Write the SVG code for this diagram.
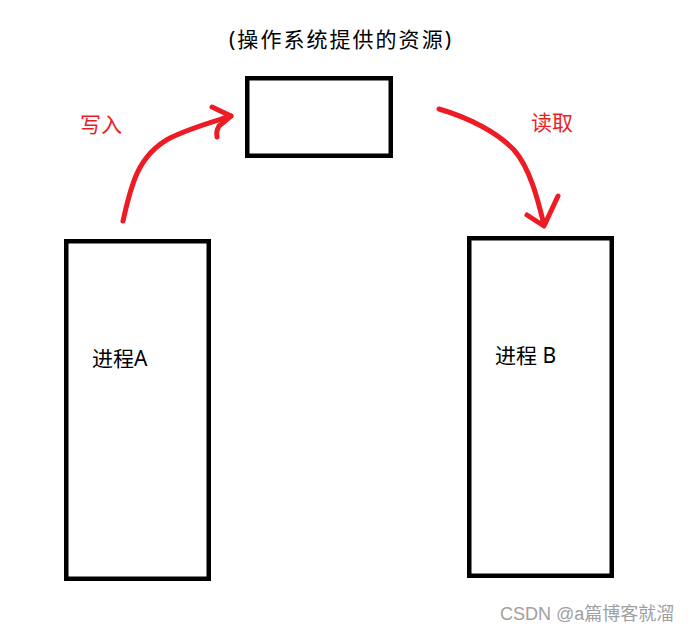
<svg xmlns="http://www.w3.org/2000/svg" width="695" height="634" viewBox="0 0 695 634">
<style>
.box{fill:none;stroke:#000;stroke-width:4.5}
.arr{fill:none;stroke:#ed1c24;stroke-width:5;stroke-linecap:round;stroke-linejoin:round}
.t{font-family:"Noto Sans","Noto Sans CJK SC",sans-serif;font-size:21px;fill:#000}
.r{fill:#ed1c24}
.w{font-family:"Liberation Sans","Noto Sans CJK SC",sans-serif;font-size:18px;fill:#a0a0a0}
</style>
<rect width="695" height="634" fill="#fff"/>
<g id="resource">
<rect class="box" x="247.25" y="78.25" width="143.5" height="77.5"/>
<text class="t" x="229" y="47" font-size="22" textLength="222" lengthAdjust="spacing">(操作系统提供的资源)</text>
</g>
<g id="processA">
<rect class="box" x="66.25" y="241.25" width="142.5" height="337.5"/>
<text class="t" x="92" y="366">进程A</text>
</g>
<g id="processB">
<rect class="box" x="469.25" y="238.25" width="142.5" height="337.5"/>
<text class="t" x="495" y="363">进程 B</text>
</g>
<g id="connectors">
<path class="arr" d="M123,221 C131,185 138,155 170,138 C190,128 212,122 231,116"/>
<path class="arr" d="M212,107 L231,116 L219,126 Q216,131 217,137"/>
<text class="t r" x="80" y="132">写入</text>
<path class="arr" d="M439,109 C470,118 498,133 514,150 C530,168 538,200 544,225"/>
<path class="arr" d="M527,215 L544,226 L558,196"/>
<text class="t r" x="531" y="130">读取</text>
</g>
<text class="w" x="500" y="620">CSDN @a篇博客就溜</text>
</svg>
